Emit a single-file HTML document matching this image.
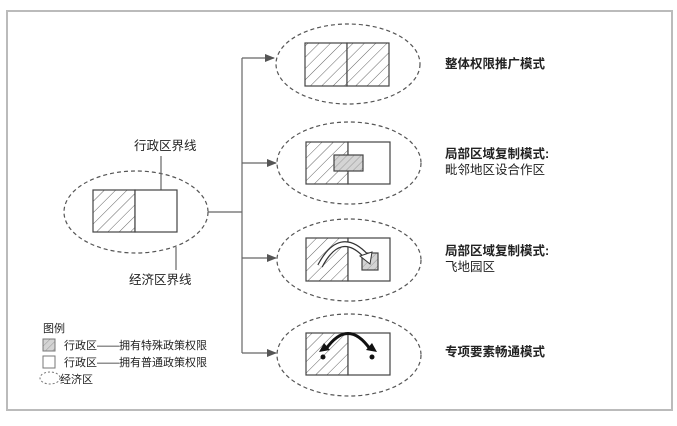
<!DOCTYPE html>
<html><head><meta charset="utf-8"><style>
body{margin:0;background:#fff;}
svg text{font-family:"Liberation Sans","Noto Sans CJK SC",sans-serif;fill:#222;}
</style></head><body>
<svg width="677" height="421" viewBox="0 0 677 421" xmlns="http://www.w3.org/2000/svg">
<defs>
<pattern id="h" patternUnits="userSpaceOnUse" width="8" height="8" patternTransform="rotate(45)">
<rect width="8" height="8" fill="#fff"/><line x1="0" y1="0" x2="0" y2="8" stroke="#555" stroke-width="0.9"/>
</pattern>
<pattern id="hg" patternUnits="userSpaceOnUse" width="5" height="5" patternTransform="rotate(45)">
<rect width="5" height="5" fill="#d4d4d4"/><line x1="0" y1="0" x2="0" y2="5" stroke="#888" stroke-width="0.8"/>
</pattern>
<marker id="a" markerWidth="10" markerHeight="8" refX="9" refY="4" orient="auto" markerUnits="userSpaceOnUse">
<path d="M0,0 L10,4 L0,8 z" fill="#555"/></marker>
</defs>
<rect x="7" y="11" width="665" height="399" fill="#fff" stroke="#bbb" stroke-width="2"/>
<g fill="none" stroke="#555" stroke-width="1.2" stroke-dasharray="4,3">
<ellipse cx="136" cy="212" rx="72" ry="41"/>
<ellipse cx="348" cy="64" rx="72" ry="40"/>
<ellipse cx="349" cy="163" rx="72" ry="41"/>
<ellipse cx="349" cy="260" rx="72" ry="41"/>
<ellipse cx="349" cy="355" rx="72" ry="41"/>
</g>
<g stroke="#666" stroke-width="1.2" fill="none">
<line x1="208" y1="212" x2="242" y2="212"/>
<line x1="242" y1="58" x2="242" y2="353"/>
<line x1="242" y1="58" x2="274" y2="58" marker-end="url(#a)"/>
<line x1="242" y1="163" x2="276" y2="163" marker-end="url(#a)"/>
<line x1="242" y1="258" x2="276" y2="258" marker-end="url(#a)"/>
<line x1="242" y1="353" x2="276" y2="353" marker-end="url(#a)"/>
<line x1="161" y1="156" x2="161" y2="190"/>
<line x1="176" y1="247" x2="176" y2="270"/>
</g>
<g stroke="#444" stroke-width="1.2">
<rect x="93" y="190" width="42" height="42" fill="url(#h)"/><rect x="135" y="190" width="42" height="42" fill="#fff"/>
<rect x="305" y="43" width="42" height="43" fill="url(#h)"/><rect x="347" y="43" width="42" height="43" fill="url(#h)"/>
<rect x="306" y="142" width="42" height="42" fill="url(#h)"/><rect x="348" y="142" width="42" height="42" fill="#fff"/>
<rect x="334" y="155" width="29" height="16" fill="url(#hg)"/>
<rect x="306" y="238" width="42" height="43" fill="url(#h)"/><rect x="348" y="238" width="42" height="43" fill="#fff"/>
<rect x="362" y="253" width="16" height="17" fill="url(#hg)"/>
<rect x="306" y="333" width="42" height="42" fill="url(#h)"/><rect x="348" y="333" width="42" height="42" fill="#fff"/>
</g>
<path d="M320,266 Q340,228 366,256" fill="none" stroke="#333" stroke-width="6"/>
<path d="M320,266 Q340,228 366,256" fill="none" stroke="#fff" stroke-width="3.5"/>
<path d="M360,256 L372,252 L370,264 z" fill="#fff" stroke="#333" stroke-width="1"/>
<path d="M326,349 Q348,318 370,349" fill="none" stroke="#111" stroke-width="3"/>
<path d="M319,352 L324,343 L330,350 z" fill="#111"/>
<path d="M366,350 L372,343 L377,352 z" fill="#111"/>
<circle cx="323" cy="357" r="2.5" fill="#111"/><circle cx="372" cy="357" r="2.5" fill="#111"/>
<g font-size="12.5">
<text x="134" y="150">行政区界线</text>
<text x="129" y="284">经济区界线</text>
<text x="445" y="68" font-weight="bold">整体权限推广模式</text>
<text x="445" y="158" font-weight="bold">局部区域复制模式:</text>
<text x="445" y="174">毗邻地区设合作区</text>
<text x="445" y="255" font-weight="bold">局部区域复制模式:</text>
<text x="445" y="271">飞地园区</text>
<text x="445" y="356" font-weight="bold">专项要素畅通模式</text>
</g>
<g font-size="11">
<text x="43" y="332">图例</text>
<rect x="43" y="339" width="12" height="12" fill="url(#hg)" stroke="#777"/>
<text x="64" y="349">行政区——拥有特殊政策权限</text>
<rect x="43" y="356" width="12" height="12" fill="#fff" stroke="#777"/>
<text x="64" y="366">行政区——拥有普通政策权限</text>
<ellipse cx="50" cy="378" rx="10" ry="6" fill="none" stroke="#777" stroke-dasharray="2,2"/>
<text x="60" y="383">经济区</text>
</g>
</svg>
</body></html>
